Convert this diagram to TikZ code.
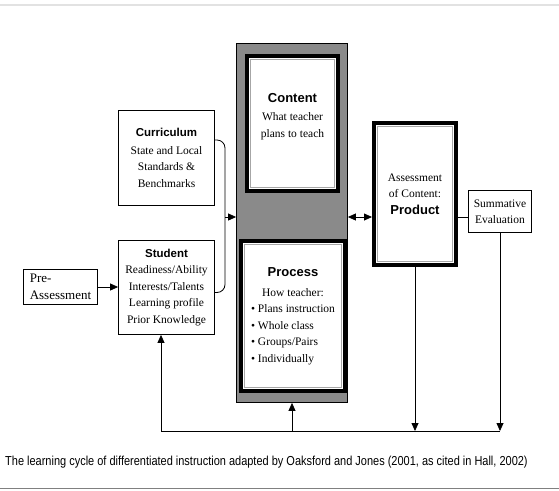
\documentclass[tikz,border=0pt]{standalone}
\usepackage{fontspec}
\setmainfont{Liberation Serif}
\setsansfont{Liberation Sans}
\newfontfamily\captionfont[FakeStretch=0.845]{Liberation Sans}
\usetikzlibrary{arrows.meta,calc,positioning}
\definecolor{columngray}{RGB}{138,138,138}
\definecolor{rulegray}{RGB}{226,226,226}
\newcommand{\bodyfont}{\fontsize{11.5}{16.5}\selectfont}
\newcommand{\headfont}{\sffamily\bfseries\fontsize{13}{16}\selectfont}
\newcommand{\subheadfont}{\sffamily\bfseries\fontsize{11.5}{16}\selectfont}
\begin{document}
\begin{tikzpicture}[x=1pt,y=-1pt,
 >={Triangle[length=8pt,width=7pt]},
 plainbox/.style={draw,fill=white,line width=0.8pt,inner sep=0pt,align=center,font=\bodyfont},
 heavybox/.style={draw,fill=white,line width=4pt,inner sep=0pt,align=center,font=\bodyfont},
 innerline/.style={draw=gray!70,line width=0.7pt},
 link/.style={line width=0.8pt}]
 \useasboundingbox (0,0) rectangle (559,490);
 \draw[rulegray,line width=1.5pt] (0,5) -- (559,5);
 % Srodkowa kolumna.
 \node[draw,fill=columngray,line width=0.8pt,inner sep=0pt,
  minimum width=111pt,minimum height=359pt] (col) at (292,223) {};
 \node[heavybox,minimum width=91pt,minimum height=135pt] (content) at (292.5,123.5) {};
 \node[font=\bodyfont,align=center] (contenttext) at ($(content.center)+(0,-7)$)
  {{\headfont Content}\\[2pt] What teacher\\plans to teach};
 \node[heavybox,minimum width=104pt,minimum height=150pt] (process) at (293,316)
  {\begin{tabular}{@{}l@{}}
   \multicolumn{1}{@{}c@{}}{\headfont Process}\\[3pt]
   \multicolumn{1}{@{}c@{}}{How teacher:}\\
   • Plans instruction\\
   • Whole class\\
   • Groups/Pairs\\
   • Individually
  \end{tabular}};
 \node[heavybox,minimum width=82pt,minimum height=142pt] (product) at (415,194)
  {Assessment\\of Content:\\{\headfont Product}};
 \foreach \n in {content,process,product}
  \draw[innerline] ($(\n.north west)+(5.5,5.5)$) rectangle ($(\n.south east)+(-5.5,-5.5)$);
 % Lewa strona.
 \node[plainbox,minimum width=96pt,minimum height=95pt] (curriculum) at (166.5,158)
  {{\subheadfont Curriculum}\\[1pt] State and Local\\Standards \&\\Benchmarks};
 \node[plainbox,minimum width=96pt,minimum height=94pt] (student) at (166.5,287.5)
  {{\subheadfont Student}\\ Readiness/Ability\\Interests/Talents\\Learning profile\\Prior Knowledge};
 \node[plainbox,font=\fontsize{13}{17}\selectfont,align=left,
  minimum width=74pt,minimum height=35pt] (pre) at (60.5,287) {Pre-\\Assessment};
 % Prawa strona.
 \node[plainbox,font=\fontsize{11.5}{16}\selectfont,
  minimum width=63pt,minimum height=42pt] (summative) at (500,211.5) {Summative\\Evaluation};
 % Polaczenia.
 \coordinate (brace) at (225,217);
 \draw[link,rounded corners=8pt] ($(curriculum.east)+(0,-18)$) -| (brace)
  |- ($(student.east)+(0,5)$);
 \draw[link,->] (brace) -- (brace -| col.west);
 \draw[link,<->] (brace -| col.east) -- (brace -| product.west);
 \draw[link] (brace -| product.east) -- (brace -| summative.west);
 \draw[link,->] (pre.east) -- (pre.east -| student.west);
 % Petla powrotna.
 \coordinate (loop) at (161,431);
 \draw[link] (loop) -- (loop -| summative.south);
 \draw[link,->] (product.south) -- (product.south |- loop);
 \draw[link,->] (summative.south) -- (summative.south |- loop);
 \draw[link,->] (col.south |- loop) -- (col.south);
 \draw[link,->] (loop) -- (loop |- student.south);
 % Podpis.
 \node[anchor=west,inner sep=0pt,font=\captionfont\fontsize{13}{15}\selectfont] (caption) at (5,462)
  {The learning cycle of differentiated instruction adapted by Oaksford and Jones (2001, as cited in Hall, 2002)};
 \draw[gray,line width=1pt] (0,488) -- (559,488);
\end{tikzpicture}
\end{document}
